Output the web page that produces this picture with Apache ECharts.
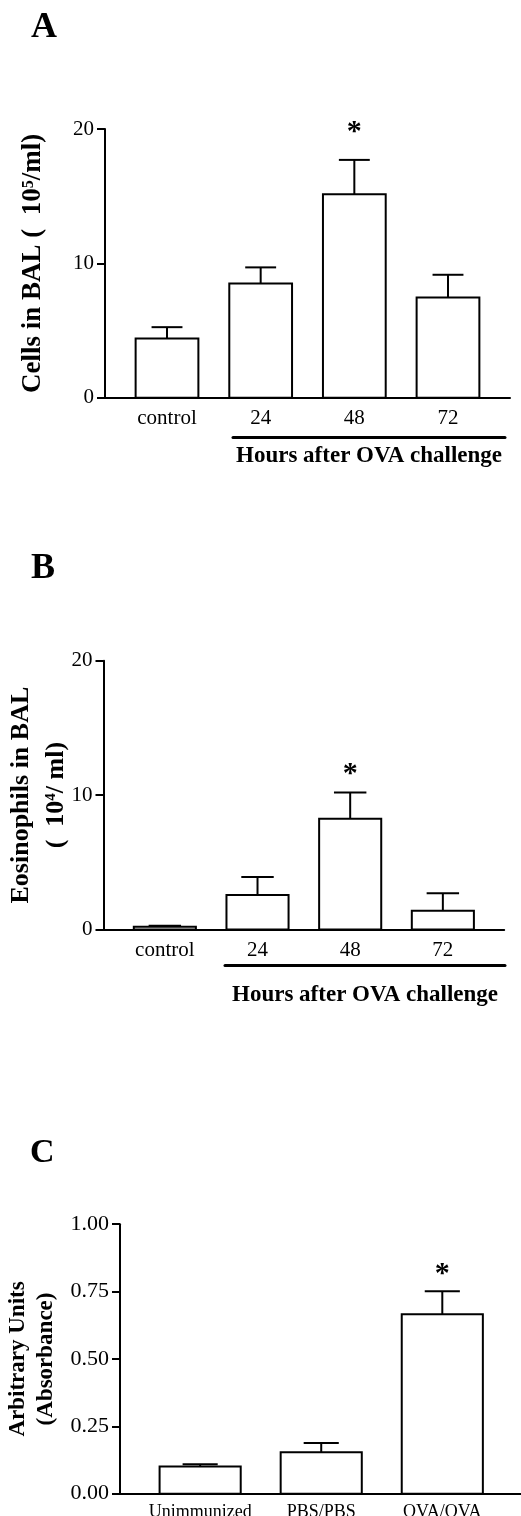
<!DOCTYPE html>
<html>
<head>
<meta charset="utf-8">
<script src="https://cdn.jsdelivr.net/npm/echarts@6/dist/echarts.min.js"></script>
<style>
html,body{margin:0;padding:0;background:#fff;}
#c{width:521px;height:1516px;}
</style>
</head>
<body>
<div id="c"></div>
<script>
// ---- data ----
const catsAB = ['control', '24', '48', '72'];
const cellsMean = [4.4, 8.5, 15.15, 7.45];
const cellsSem = [0.85, 1.2, 2.55, 1.7];
const cellsStar = [null, null, 20.2, null];

const eosMean = [0.2, 2.57, 8.24, 1.4];
const eosSem = [0.08, 1.33, 1.96, 1.3];
const eosStar = [null, null, 12.0, null];

const catsC = ['Unimmunized', 'PBS/PBS', 'OVA/OVA'];
const absMean = [0.101, 0.154, 0.666];
const absSem = [0.008, 0.034, 0.085];
const absStar = [null, null, 0.836];

const ticksAB = [0, 10, 20];
const ticksC = [0, 0.25, 0.5, 0.75, 1.0];

// ---- helpers ----
const SERIF = '"Liberation Serif", "DejaVu Serif", serif';
const BLACK = '#000';

function barData(mean, sem) {
  return mean.map((m, i) => [i, m, sem[i]]);
}
function starData(star) {
  const out = [];
  star.forEach((v, i) => { if (v !== null) out.push([i, v]); });
  return out;
}
function barRender(barW, capW) {
  return function (params, api) {
    const i = api.value(0), m = api.value(1), s = api.value(2);
    const base = api.coord([i, 0]);
    const top = api.coord([i, m]);
    const et = api.coord([i, m + s]);
    const w = api.size([barW, 0])[0];
    const cw = api.size([capW, 0])[0];
    const st = { stroke: BLACK, lineWidth: 2, fill: null };
    return {
      type: 'group',
      children: [
        { type: 'line', shape: { x1: top[0], y1: top[1], x2: et[0], y2: et[1] }, style: st },
        { type: 'line', shape: { x1: et[0] - cw / 2, y1: et[1], x2: et[0] + cw / 2, y2: et[1] }, style: st },
        { type: 'rect', shape: { x: base[0] - w / 2, y: top[1], width: w, height: base[1] - top[1] },
          style: { fill: '#fff', stroke: BLACK, lineWidth: 2 } }
      ]
    };
  };
}
function starRender(params, api) {
  const p = api.coord([api.value(0), api.value(1)]);
  return {
    type: 'text', x: p[0], y: p[1] + 6,
    style: { text: '*', fontFamily: SERIF, fontWeight: 'bold', fontSize: 30, fill: BLACK,
             align: 'center', verticalAlign: 'middle' }
  };
}
function catX(idx, cats, max, fontSize) {
  return {
    type: 'value', gridIndex: idx, min: -0.662, max: max,
    axisLine: { show: true, onZero: false, lineStyle: { color: BLACK, width: 2 } },
    axisTick: { show: false },
    splitLine: { show: false },
    axisLabel: {
      customValues: cats.map((c, i) => i),
      formatter: v => cats[Math.round(v)],
      color: BLACK, fontFamily: SERIF, fontSize: fontSize, margin: 10
    }
  };
}
function valY(idx, max, interval, ticks, fontSize, name, nameGap, nameStyle, fmt) {
  return {
    type: 'value', gridIndex: idx, min: 0, max: max, interval: interval,
    axisLine: { show: true, onZero: false, lineStyle: { color: BLACK, width: 2 } },
    axisTick: { show: true, length: 8, lineStyle: { color: BLACK, width: 2 } },
    splitLine: { show: false },
    axisLabel: { color: BLACK, fontFamily: SERIF, fontSize: fontSize, margin: 11, formatter: fmt },
    name: name, nameLocation: 'middle', nameGap: nameGap, nameMoveOverlap: false,
    nameTextStyle: nameStyle
  };
}
function supRich(size) {
  return { sup: { fontSize: size, fontWeight: 'bold', fontFamily: SERIF, color: BLACK, padding: [0, 0, 10, 0] } };
}
function lineX(idx, name, gap) {
  return {
    type: 'value', gridIndex: idx, min: 0, max: 1,
    axisLine: { show: true, onZero: false, lineStyle: { color: BLACK, width: 3 } },
    axisTick: { show: false }, axisLabel: { show: false }, splitLine: { show: false },
    name: name, nameLocation: 'middle', nameGap: gap, nameMoveOverlap: false,
    nameTextStyle: { color: BLACK, fontFamily: SERIF, fontWeight: 'bold', fontSize: 23 }
  };
}
function hiddenY(idx) {
  return { type: 'value', gridIndex: idx, show: false, min: 0, max: 1 };
}

const chart = echarts.init(document.getElementById('c'), null, { renderer: 'canvas' });
const letterStyle = { color: BLACK, fontFamily: SERIF, fontWeight: 'bold', fontSize: 36 };

chart.setOption({
  backgroundColor: '#fff',
  animation: false,
  title: [
    { text: 'A', left: 31, top: 10, textStyle: letterStyle, padding: 0 },
    { text: 'B', left: 31, top: 551, textStyle: letterStyle, padding: 0 },
    { text: 'C', left: 30, top: 1136, textStyle: Object.assign({}, letterStyle, { fontSize: 34 }), padding: 0 }
  ],
  grid: [
    { left: 105, top: 129, width: 405, height: 268.7, outerBoundsMode: 'none', containLabel: false },
    { left: 103.5, top: 660.7, width: 400.7, height: 268.8, outerBoundsMode: 'none', containLabel: false },
    { left: 120, top: 1224.2, width: 401, height: 269.5, outerBoundsMode: 'none', containLabel: false },
    { left: 233, top: 436, width: 272, height: 1, outerBoundsMode: 'none', containLabel: false },
    { left: 225, top: 964, width: 280, height: 1, outerBoundsMode: 'none', containLabel: false }
  ],
  xAxis: [
    catX(0, catsAB, 3.662, 21),
    catX(1, catsAB, 3.662, 21),
    catX(2, catsC, 2.65, 18),
    lineX(3, 'Hours after OVA challenge', 8),
    lineX(4, 'Hours after OVA challenge', 19)
  ],
  yAxis: [
    valY(0, 20, 10, ticksAB, 21, 'Cells in BAL (  10{sup|5}/ml)', 58,
      { color: BLACK, fontFamily: SERIF, fontWeight: 'bold', fontSize: 27, rich: supRich(16) }),
    valY(1, 20, 10, ticksAB, 21, 'Eosinophils in BAL\n(  10{sup|4}/ ml)', 30,
      { color: BLACK, fontFamily: SERIF, fontWeight: 'bold', fontSize: 26, lineHeight: 35, rich: supRich(15) }),
    valY(2, 1, 0.25, ticksC, 22, 'Arbitrary Units\n(Absorbance)', 60,
      { color: BLACK, fontFamily: SERIF, fontWeight: 'bold', fontSize: 23, lineHeight: 28 },
      v => v.toFixed(2)),
    hiddenY(3),
    hiddenY(4)
  ],
  series: [
    { type: 'custom', xAxisIndex: 0, yAxisIndex: 0, renderItem: barRender(0.67, 0.33), data: barData(cellsMean, cellsSem) },
    { type: 'custom', xAxisIndex: 0, yAxisIndex: 0, renderItem: starRender, data: starData(cellsStar) },
    { type: 'custom', xAxisIndex: 1, yAxisIndex: 1, renderItem: barRender(0.67, 0.35), data: barData(eosMean, eosSem) },
    { type: 'custom', xAxisIndex: 1, yAxisIndex: 1, renderItem: starRender, data: starData(eosStar) },
    { type: 'custom', xAxisIndex: 2, yAxisIndex: 2, renderItem: barRender(0.67, 0.29), data: barData(absMean, absSem) },
    { type: 'custom', xAxisIndex: 2, yAxisIndex: 2, renderItem: starRender, data: starData(absStar) }
  ]
});
</script>
</body>
</html>
